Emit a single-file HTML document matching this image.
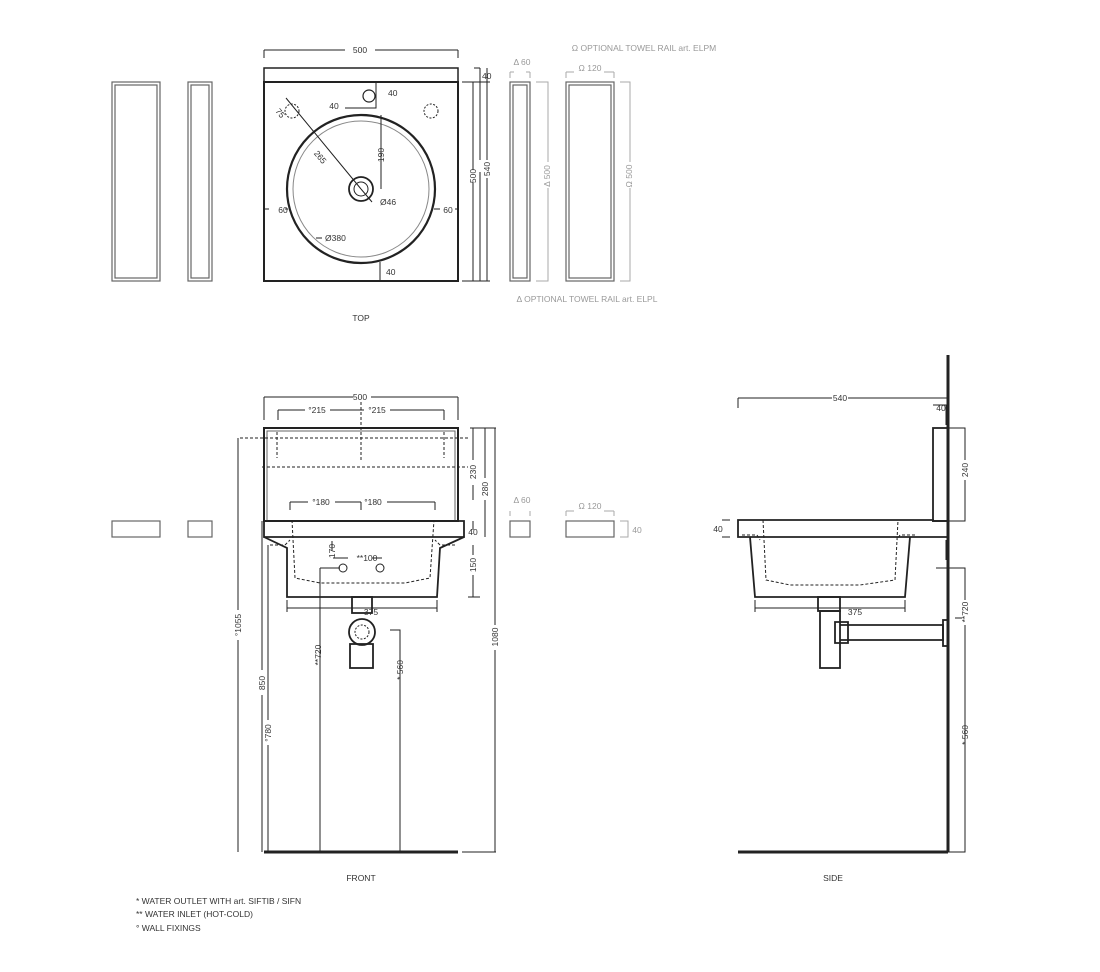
<!DOCTYPE html>
<html><head><meta charset="utf-8"><style>
html,body{margin:0;padding:0;background:#fff}
svg{display:block}
text{font-family:"Liberation Sans",sans-serif;font-size:8.5px;fill:#333}
.g text{fill:#999}
</style></head><body>
<svg width="1100" height="972" viewBox="0 0 1100 972" xmlns="http://www.w3.org/2000/svg">
<g fill="none" stroke="#222" stroke-width="1">
<!-- TOP VIEW -->
<rect x="264" y="68" width="194" height="14" stroke-width="1.5"/>
<rect x="264" y="82" width="194" height="199" stroke-width="2"/>
<circle cx="361" cy="189" r="74" stroke-width="2.2"/>
<circle cx="361" cy="189" r="68" stroke="#888"/>
<circle cx="361" cy="189" r="12" stroke-width="1.8"/>
<circle cx="361" cy="189" r="7"/>
<circle cx="369" cy="96" r="6" stroke-width="1.2"/>
<circle cx="292" cy="111" r="7" stroke-dasharray="2 1.5"/>
<circle cx="431" cy="111" r="7" stroke-dasharray="2 1.5"/>
<path d="M264 50V58M458 50V58M264 50H345M375 50H458"/>
<path d="M474 68H480M462 82H490M462 281H490M480 68V82M480 82V160M480 172V281M473 82V170M473 182V281M487 68V160M487 178V281"/>
<path d="M286 98L361 189M376 89V108H345M376 89V82"/>
<path d="M381 115V189M361 189L372 202"/>
<path d="M264 209H269M285 209H288M434 209H440M455 209H458"/>
<path d="M380 262V281M322 238L316 238"/>
<!-- side bars top -->
<g stroke="#666" stroke-width="1.2"><rect x="112" y="82" width="48" height="199"/><rect x="115" y="85" width="42" height="193"/>
<rect x="188" y="82" width="24" height="199"/><rect x="191" y="85" width="18" height="193"/>
<rect x="510" y="82" width="20" height="199"/><rect x="513" y="85" width="14" height="193"/>
<rect x="566" y="82" width="48" height="199"/><rect x="569" y="85" width="42" height="193"/></g>
<path stroke="#aaa" d="M510 72V78M530 72V78M510 72H514M526 72H530M566 72V78M614 72V78M566 72H574M604 72H614M536 82H548V162M548 188V281H536M620 82H630V162M630 188V281H620"/>
<!-- FRONT VIEW -->
<rect x="264" y="428" width="194" height="93" stroke-width="2"/>
<rect x="267" y="431" width="188" height="90" stroke="#666"/>
<path d="M264 521H464V537H264Z" stroke-width="1.8"/>
<path d="M264 537L287 548L287 597H437L440 548L464 537" stroke-width="1.8"/>
<path stroke-dasharray="3 2" d="M292 520L295 578L320 583H405L430 578L434 520M270 545H285L290 540M455 545H440L435 540M240 438H470M262 467H468"/>
<path stroke-dasharray="3 2" d="M277 432V458M444 432V458M361 402V462"/>
<path d="M264 397V420M458 397V420M264 397H353M371 397H458M278 410H305M330 410H361H364M390 410H444M278 410V420M444 410V420"/>
<path d="M290 502H308M335 502H361M387 502H435M290 502V510M435 502V510M361 502V510"/>
<rect x="352" y="597" width="20" height="16" stroke-width="1.8"/>
<circle cx="362" cy="632" r="13" stroke-width="1.8"/>
<circle cx="362" cy="632" r="7" stroke-dasharray="2 1.5"/>
<rect x="350" y="644" width="23" height="24" stroke-width="1.8"/>
<circle cx="343" cy="568" r="4"/><circle cx="380" cy="568" r="4"/>
<path d="M332 551V541M320 568H340M320 568V852M348 558H333M372 558H382"/>
<path d="M287 608H437M287 600V612M437 600V612"/>
<path d="M390 630H400V852M238 438V610M238 640V852M262 521V670M262 695V852M268 545V720M268 745V852M495 428V625M495 650V852M470 428H496M462 852H496"/>
<path d="M473 428V460M473 485V500M473 521V530M473 545V555M473 575V597M485 428V478M485 500V537M468 597H480"/>
<path d="M264 852H458" stroke-width="3"/>
<g stroke="#666" stroke-width="1.2"><rect x="112" y="521" width="48" height="16"/><rect x="188" y="521" width="24" height="16"/>
<rect x="510" y="521" width="20" height="16"/><rect x="566" y="521" width="48" height="16"/></g>
<path stroke="#aaa" d="M510 511V516M530 511V516M566 511V516M614 511V516M566 511H574M604 511H614M620 521H628V537H620"/>
<!-- SIDE VIEW -->
<path d="M948 355V852" stroke-width="3"/>
<path d="M738 852H948" stroke-width="3"/>
<rect x="933" y="428" width="15" height="93" stroke-width="1.8"/>
<path d="M738 520H933V521H948V537H738Z" stroke-width="1.8"/>
<path d="M750 537L755 597H905L910 537" stroke-width="1.8"/>
<path stroke-dasharray="3 2" d="M763 520L766 580L790 585H860L895 580L898 520M742 535H757L760 540M915 535H900L897 540"/>
<path d="M738 398V408M738 398H832M848 398H948M933 405H946V425M948 428H965V460M965 480V521H948M738 528V530M722 520H730M722 537H730"/>
<path d="M755 608H905M755 600V612M905 600V612M936 568H965V600M965 625V852H948M955 618H962"/>
<rect x="818" y="597" width="22" height="14" stroke-width="1.8"/>
<rect x="820" y="611" width="20" height="57" stroke-width="1.8"/>
<path d="M840 625H943V640H840M835 622H848V643H835Z" stroke-width="1.8"/>
<rect x="943" y="620" width="5" height="26" stroke-width="1.8"/>
<path d="M947 540V560" stroke-width="3"/>
</g>
<g text-anchor="middle">
<text x="360" y="53">500</text>
<text x="482" y="79" text-anchor="start">40</text>
<text x="388" y="96" text-anchor="start">40</text>
<text x="334" y="109">40</text>
<text x="283" y="213">60</text>
<text x="448" y="213">60</text>
<text x="386" y="275" text-anchor="start">40</text>
<text x="380" y="205" text-anchor="start">Ø46</text>
<text x="325" y="241" text-anchor="start">Ø380</text>
<text transform="translate(278,115) rotate(50)">75</text>
<text transform="translate(318,159) rotate(50)">265</text>
<text transform="translate(384,155) rotate(-90)">190</text>
<text transform="translate(476,176) rotate(-90)">500</text>
<text transform="translate(490,169) rotate(-90)">540</text>
<text x="361" y="321">TOP</text>
<text x="360" y="400">500</text>
<text x="317" y="413">°215</text>
<text x="377" y="413">°215</text>
<text x="321" y="505">°180</text>
<text x="373" y="505">°180</text>
<text x="367" y="561">**100</text>
<text transform="translate(335,551) rotate(-90)">170</text>
<text x="371" y="615">375</text>
<text x="473" y="535">40</text>
<text transform="translate(476,472) rotate(-90)">230</text>
<text transform="translate(488,489) rotate(-90)">280</text>
<text transform="translate(476,565) rotate(-90)">150</text>
<text transform="translate(241,625) rotate(-90)">°1055</text>
<text transform="translate(265,683) rotate(-90)">850</text>
<text transform="translate(271,733) rotate(-90)">°780</text>
<text transform="translate(321,655) rotate(-90)">**720</text>
<text transform="translate(403,670) rotate(-90)">* 560</text>
<text transform="translate(498,637) rotate(-90)">1080</text>
<text x="361" y="881">FRONT</text>
<text x="840" y="401">540</text>
<text x="941" y="411">40</text>
<text x="718" y="532">40</text>
<text transform="translate(968,470) rotate(-90)">240</text>
<text x="855" y="615">375</text>
<text transform="translate(968,612) rotate(-90)">**720</text>
<text transform="translate(968,735) rotate(-90)">* 560</text>
<text x="833" y="881">SIDE</text>
</g>
<g class="g" text-anchor="middle">
<text x="644" y="51">Ω  OPTIONAL TOWEL RAIL art. ELPM</text>
<text x="587" y="302">Δ  OPTIONAL TOWEL RAIL art. ELPL</text>
<text x="522" y="65">Δ 60</text>
<text x="590" y="71">Ω 120</text>
<text transform="translate(550,176) rotate(-90)">Δ 500</text>
<text transform="translate(632,176) rotate(-90)">Ω 500</text>
<text x="522" y="503">Δ 60</text>
<text x="590" y="509">Ω 120</text>
<text x="637" y="533">40</text>
</g>
<g font-size="8">
<text x="136" y="904">*  WATER OUTLET WITH art. SIFTIB / SIFN</text>
<text x="136" y="917">** WATER INLET (HOT-COLD)</text>
<text x="136" y="931">° WALL FIXINGS</text>
</g>
</svg>
</body></html>
